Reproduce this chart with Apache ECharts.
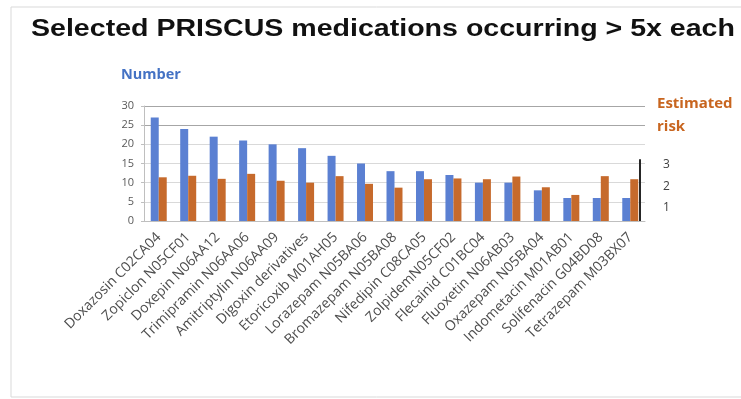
<!DOCTYPE html>
<html>
<head>
<meta charset="utf-8">
<script src="https://cdn.jsdelivr.net/npm/echarts@6/dist/echarts.min.js"></script>
<style>
html,body{margin:0;padding:0;background:#fff}
#main{width:741px;height:399px}
</style>
</head>
<body>
<div id="main"></div>
<script>
var categories = ['Doxazosin C02CA04','Zopiclon N05CF01','Doxepin N06AA12','Trimipramin N06AA06',
    'Amitriptylin N06AA09','Digoxin derivatives','Etoricoxib M01AH05','Lorazepam N05BA06',
    'Bromazepam N05BA08','Nifedipin C08CA05','ZolpidemN05CF02','Flecainid C01BC04',
    'Fluoxetin N06AB03','Oxazepam N05BA04','Indometacin M01AB01','Solifenacin G04BD08','Tetrazepam M03BX07'];
// blue bars, counted on the left axis
var numberValues = [27,24,22,21,20,19,17,15,13,13,12,10,10,8,6,6,6];
// orange bars, as drawn against the left axis
var riskValues = [11.4,11.8,11,12.3,10.5,10,11.7,9.7,8.7,10.9,11.1,10.9,11.6,8.8,6.8,11.7,10.9];
var riskTicks = [1,2,3];

var myChart = echarts.init(document.getElementById('main'));

var option = {
    animation: false,
    backgroundColor: '#fff',
    textStyle: {fontFamily: 'Open Sans'},
    grid: [
        {left: 144, top: 106, width: 501, height: 115},
        {left: 640, top: 160, width: 5, height: 61}
    ],
    xAxis: [
        {
            type: 'category',
            gridIndex: 0,
            data: categories,
            axisLine: {lineStyle: {color: '#bfbfbf'}},
            axisTick: {length: 5, lineStyle: {color: '#bfbfbf'}},
            axisLabel: {rotate: 45, margin: 14, fontSize: 14, color: '#4d4d4d', interval: 0}
        },
        {type: 'value', gridIndex: 1, show: false}
    ],
    yAxis: [
        {
            type: 'value',
            gridIndex: 0,
            min: 0, max: 30, interval: 5,
            axisLine: {show: true, lineStyle: {color: '#bfbfbf'}},
            axisTick: {show: true, length: 3, lineStyle: {color: '#bfbfbf'}},
            axisLabel: {fontSize: 11, color: '#595959', margin: 10},
            splitLine: {lineStyle: {color: ['#d9d9d9','#d9d9d9','#d9d9d9','#d9d9d9','#d9d9d9','#a6a6a6','#a6a6a6']}}
        },
        {
            type: 'value',
            gridIndex: 1,
            position: 'right',
            min: 0.4, max: 3.2,
            axisLine: {show: true, lineStyle: {color: '#262626', width: 2}},
            axisTick: {show: false},
            splitLine: {show: false},
            axisLabel: {customValues: riskTicks, margin: 18, fontSize: 12, color: '#404040'}
        }
    ],
    series: [
        {
            name: 'Number',
            type: 'bar',
            data: numberValues,
            barWidth: 8,
            barGap: '0%',
            itemStyle: {color: '#5b80d2'}
        },
        {
            name: 'Estimated risk',
            type: 'bar',
            data: riskValues,
            barWidth: 8,
            barGap: '0%',
            itemStyle: {color: '#c66a2c'}
        }
    ],
    graphic: [
        {type: 'rect', shape: {x: 11, y: 7, width: 760, height: 390}, style: {fill: 'none', stroke: '#d9d9d9', lineWidth: 1}, silent: true},
        {type: 'text', x: 31, y: 29, scaleX: 1.19,
            style: {text: 'Selected PRISCUS medications occurring > 5x each', font: 'bold 24px "Liberation Sans"', fill: '#111', textVerticalAlign: 'middle'}},
        {type: 'text', x: 121, y: 75,
            style: {text: 'Number', font: 'bold 14.5px "Open Sans"', fill: '#4472c4', textVerticalAlign: 'middle'}},
        {type: 'text', x: 657, y: 104,
            style: {text: 'Estimated', font: 'bold 15px "Open Sans"', fill: '#c8651f', textVerticalAlign: 'middle'}},
        {type: 'text', x: 657, y: 127,
            style: {text: 'risk', font: 'bold 15px "Open Sans"', fill: '#c8651f', textVerticalAlign: 'middle'}}
    ]
};
myChart.setOption(option);
</script>
</body>
</html>
